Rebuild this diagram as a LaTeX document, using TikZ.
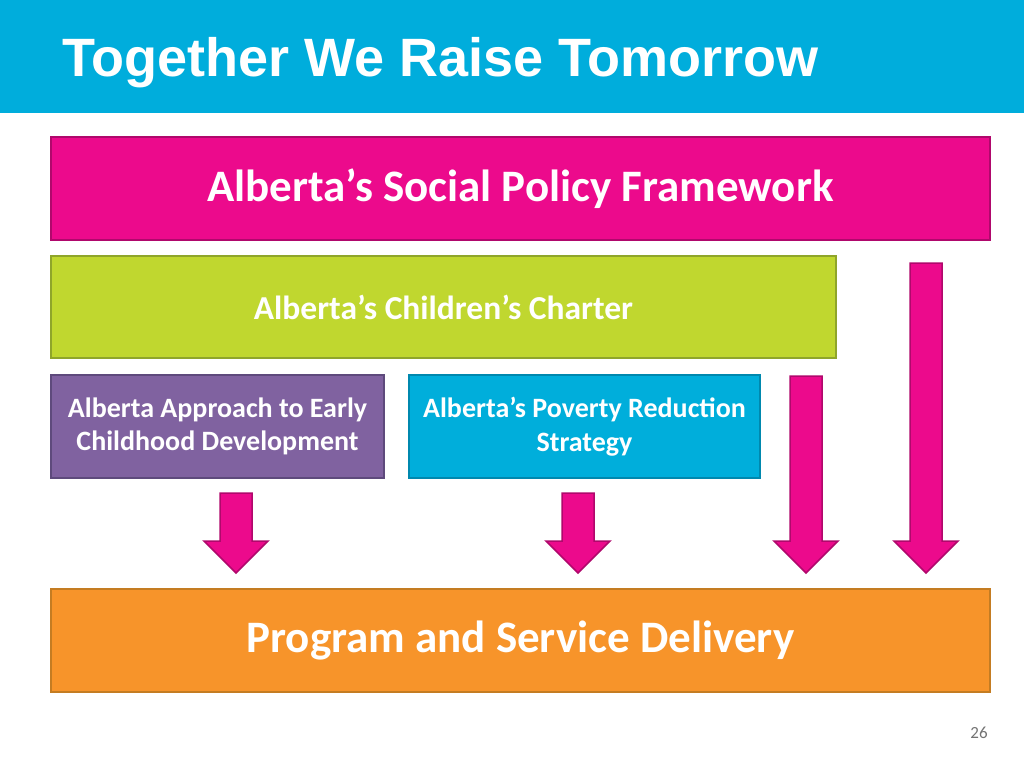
\documentclass[tikz,border=0pt]{standalone}
\usepackage{fontspec}
\setmainfont{Carlito}
\newfontfamily\titlefont{Liberation Sans}
\usetikzlibrary{positioning}
\definecolor{headblue}{HTML}{00ADDC}
\definecolor{spfpink}{HTML}{EC0A8C}
\definecolor{spfline}{HTML}{B0086C}
\definecolor{chartgreen}{HTML}{C0D72F}
\definecolor{chartline}{HTML}{8FA52A}
\definecolor{ecdpurple}{HTML}{8062A0}
\definecolor{ecdline}{HTML}{5E4A7C}
\definecolor{povblue}{HTML}{00AEDB}
\definecolor{povline}{HTML}{0088AE}
\definecolor{delorange}{HTML}{F7942A}
\definecolor{delline}{HTML}{C47C22}
\tikzset{
  box/.style={draw, line width=2pt, text=white, font=\bfseries, align=center, inner sep=0pt},
  downarrow/.style={fill=spfpink, draw=spfline, line width=1.5pt, line join=miter}
}
\def\blockarrow(#1,#2,#3){\draw[downarrow] (#1-16,#2) -- (#1+16,#2) -- (#1+16,#3-32) -- (#1+32,#3-32) -- (#1,#3) -- (#1-32,#3-32) -- (#1-16,#3-32) -- cycle;}

\begin{document}
\begin{tikzpicture}[x=1pt, y=-1pt]
			\useasboundingbox[fill=white] (0,0) rectangle (1024,768);
			
			%%%%% HEADER %%%%%
			\fill[headblue] (0,0) rectangle (1024,113);
			\node[anchor=base west, text=white, font=\titlefont\bfseries\fontsize{54}{60}\selectfont, inner sep=0pt] (title) at (62,76) {Together We Raise Tomorrow};
			
			%%%%% BOXES %%%%%
			\node[box, fill=spfpink, draw=spfline, minimum width=939, minimum height=103, font=\bfseries\fontsize{45}{50}\selectfont] (spf) at (520.5,188.5) {Alberta’s Social Policy Framework};
			\node[box, fill=chartgreen, draw=chartline, minimum width=785, minimum height=102, font=\bfseries\fontsize{33.5}{40}\selectfont] (charter) at (443.5,307) {Alberta’s Children’s Charter};
			\node[box, fill=ecdpurple, draw=ecdline, minimum width=333, minimum height=103, font=\bfseries\fontsize{28}{33.5}\selectfont] (ecd) at (217.5,426.5) {Alberta Approach to Early\\Childhood Development};
			\node[box, fill=povblue, draw=povline, minimum width=351, minimum height=103, font=\bfseries\fontsize{28}{33.5}\selectfont] (poverty) at (584.5,426.5) {Alberta’s Poverty Reduction\\Strategy};
			\node[box, fill=delorange, draw=delline, minimum width=939, minimum height=103, font=\bfseries\fontsize{45}{50}\selectfont] (delivery) at (520.5,640.5) {Program and Service Delivery};
			
			%%%%% ARROWS %%%%%
			\blockarrow(236,493,573)
			\blockarrow(578,493,573)
			\blockarrow(806,376,573)
			\blockarrow(926,263,573)
			
			\node[text=black!55, font=\fontsize{17}{18}\selectfont] (page) at (979,733) {26};
		\end{tikzpicture}
\end{document}
